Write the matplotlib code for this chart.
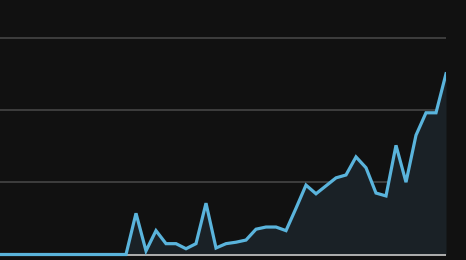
import matplotlib

matplotlib.use("Agg")
import matplotlib.pyplot as plt
import numpy as np

OUTPUT_PATH = "out.png"

# daily values, 46 points (first 14 flat at zero, the very first is just off the left edge)
VALUES = [
    0, 0, 0, 0, 0, 0, 0, 0, 0, 0, 0, 0, 0, 0,
    5.7, 0.5, 3.3, 1.5, 1.5, 0.8, 1.5, 7.1, 0.9, 1.5, 1.7, 2.0,
    3.5, 3.8, 3.8, 3.3, 6.4, 9.6, 8.4, 9.5, 10.6, 11.0, 13.5, 12.0,
    8.5, 8.1, 15.1, 10.0, 16.5, 19.6, 19.6, 25.0,
]
GRID_LEVELS = [10, 20, 30]

BG = "#111111"
LINE = "#5ab4dc"
FILL = "#1a2126"


def main() -> None:
    fig = plt.figure(figsize=(4.66, 2.60), dpi=100, facecolor=BG)
    ax = fig.add_axes([0, 0, 446 / 466, 1])
    ax.set_facecolor(BG)

    y = np.asarray(VALUES, dtype=float)
    x = np.arange(len(y))

    for level in GRID_LEVELS:
        ax.axhline(level, color="#454545", linewidth=1.2, zorder=1)
    ax.axhline(0, color="#b0b0b0", linewidth=1.4, zorder=2)

    ax.fill_between(x, 0, y, color=FILL, linewidth=0, zorder=1.5)
    ax.plot(x, y, color=LINE, linewidth=2.3, solid_joinstyle="miter", zorder=3)

    ax.set_xlim(0.4, len(y) - 1)
    ax.set_ylim(-0.76, 35.2)
    ax.set_xticks([])
    ax.set_yticks([])
    for spine in ax.spines.values():
        spine.set_visible(False)

    fig.savefig(OUTPUT_PATH, dpi=100, facecolor=BG)


if __name__ == "__main__":
    main()
